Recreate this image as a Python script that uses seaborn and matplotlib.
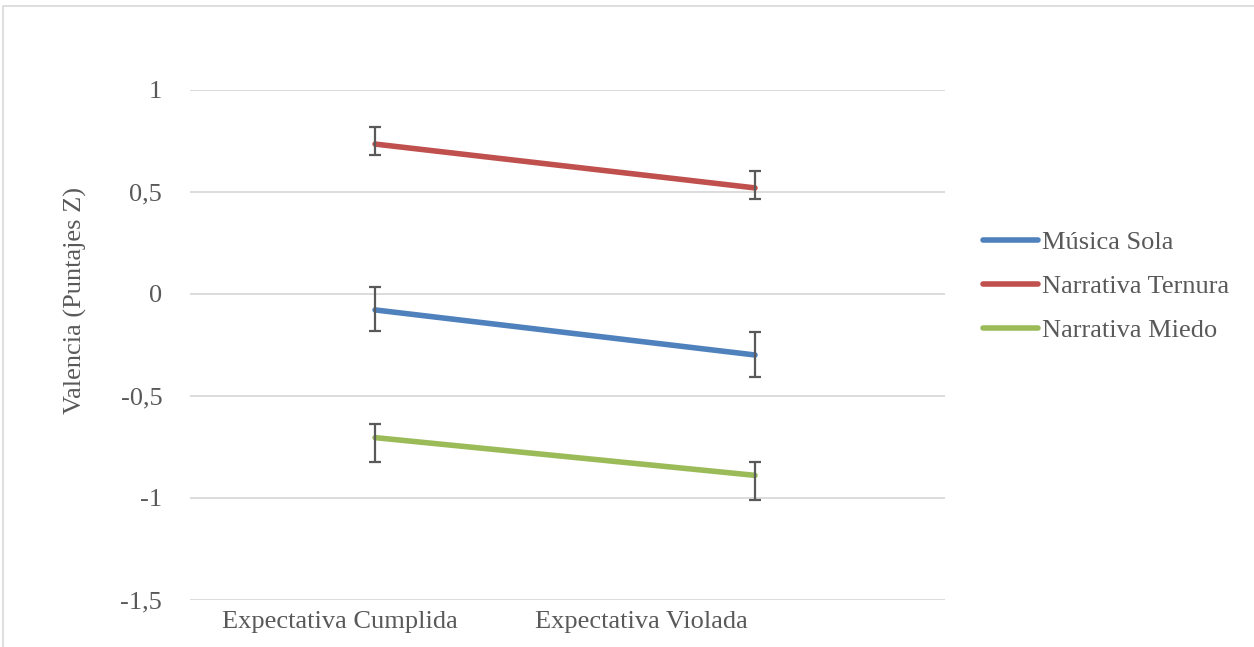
import matplotlib
matplotlib.use("Agg")
import matplotlib.pyplot as plt
import matplotlib.patches as mpatches
import seaborn as sns
import pandas as pd

# --- data ---
condiciones = ["Expectativa Cumplida", "Expectativa Violada"]
series = ["Música Sola", "Narrativa Ternura", "Narrativa Miedo"]
musica_sola = [-0.078, -0.299]
narrativa_ternura = [0.735, 0.52]
narrativa_miedo = [-0.704, -0.889]
# upper / lower error lengths
err_sup = {"Música Sola": [0.114, 0.113],
           "Narrativa Ternura": [0.084, 0.082],
           "Narrativa Miedo": [0.067, 0.067]}
err_inf = {"Música Sola": [0.102, 0.106],
           "Narrativa Ternura": [0.052, 0.054],
           "Narrativa Miedo": [0.12, 0.121]}

valores = {"Música Sola": musica_sola,
           "Narrativa Ternura": narrativa_ternura,
           "Narrativa Miedo": narrativa_miedo}
rows = []
for s in series:
    for i, c in enumerate(condiciones):
        rows.append({"serie": s, "pos": i, "cond": c, "valor": valores[s][i]})
df = pd.DataFrame(rows)

colores = {"Música Sola": "#4f81bd", "Narrativa Ternura": "#c0504d", "Narrativa Miedo": "#9bbb59"}
gris = "#595959"

sns.set_style("white")
plt.rcParams["font.family"] = ["Liberation Serif", "DejaVu Serif"]

fig = plt.figure(figsize=(12.54, 6.47), dpi=100)
ax = fig.add_axes([190 / 1254, 1 - 600 / 647, 755 / 1254, 510 / 647])

# outer chart border
fig.patches.append(mpatches.Rectangle((3 / 1254, -0.1), 1.2, 1 - 6 / 647 + 0.1,
                                      transform=fig.transFigure, fill=False,
                                      edgecolor="#d9d9d9", linewidth=1.2))

sns.lineplot(data=df, x="pos", y="valor", hue="serie", hue_order=series,
             palette=colores, linewidth=4, ax=ax, zorder=3)
for line in ax.lines:
    line.set_solid_capstyle("round")

for s in series:
    ax.errorbar([0, 1], valores[s], yerr=[err_inf[s], err_sup[s]], fmt="none",
                ecolor=gris, elinewidth=1.6, capsize=4.3, capthick=1.6, zorder=4)

ax.set_ylim(-1.5, 1)
ax.set_xlim(-0.487, 1.5)
ax.set_yticks([-1.5, -1, -0.5, 0, 0.5, 1])
ax.set_yticklabels(["-1,5", "-1", "-0,5", "0", "0,5", "1"])
ax.set_xticks([-0.092, 0.70])
ax.set_xticklabels(condiciones)
ax.tick_params(axis="both", length=0, labelsize=19, colors=gris)
ax.tick_params(axis="y", pad=20)
ax.tick_params(axis="x", pad=8)
ax.grid(axis="y", color="#d9d9d9", linewidth=1.3)
ax.set_axisbelow(True)
for sp in ax.spines.values():
    sp.set_visible(False)

ax.set_xlabel("")
ax.set_ylabel("Valencia (Puntajes Z)", fontsize=19, color=gris)
ax.yaxis.set_label_coords((75 - 190) / 755, (600 - 300) / 510)
ax.yaxis.label.set_verticalalignment("center")

handles, labels = ax.get_legend_handles_labels()
leg = ax.legend(handles, labels, loc="center left", bbox_to_anchor=(1.05, 0.615),
                frameon=False, fontsize=19, handlelength=2.1, handletextpad=0.15,
                labelspacing=0.77, labelcolor=gris, borderpad=0, borderaxespad=0)
for h in leg.get_lines():
    h.set_linewidth(4)
    h.set_solid_capstyle("round")

fig.savefig("out.png", dpi=100, facecolor="white")
